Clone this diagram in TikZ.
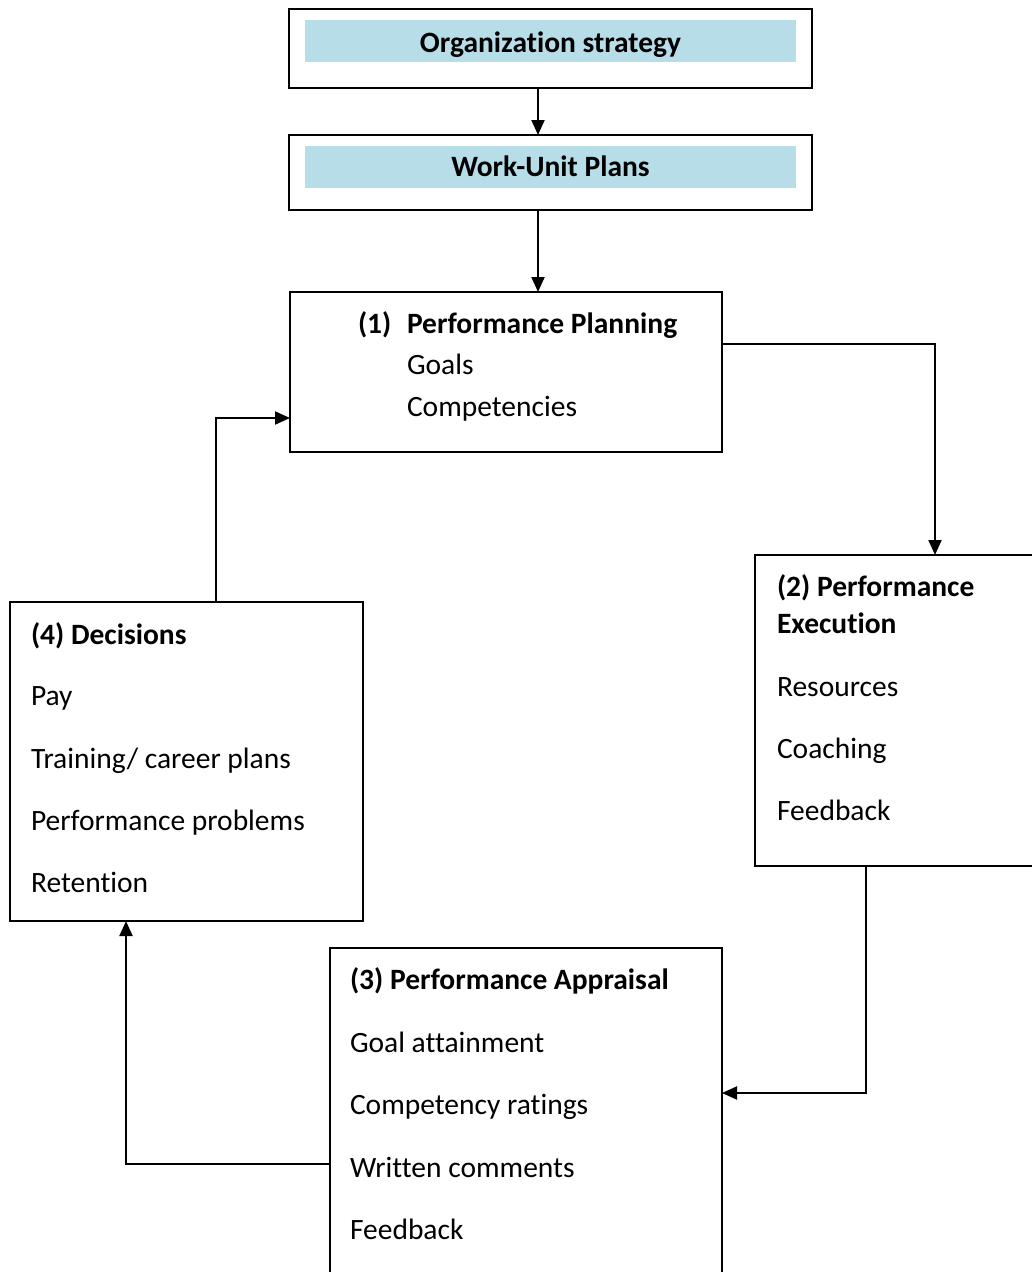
\documentclass[tikz,border=0pt]{standalone}
\usepackage{fontspec}
\setmainfont[Ligatures=NoCommon]{Carlito}
\usetikzlibrary{arrows.meta,calc}
\definecolor{hdrfill}{HTML}{B6DDE8}
\newcommand{\bodyfont}{\fontsize{29.5}{34}\selectfont}
\begin{document}
\begin{tikzpicture}[x=1pt,y=-1pt,
  box/.style={draw=black, line width=2pt, inner sep=0pt, outer sep=0pt, anchor=north west, fill=white},
  band/.style={fill=hdrfill, draw=none, inner sep=0pt, outer sep=0pt, anchor=north west},
  txt/.style={inner sep=0pt, outer sep=0pt, anchor=base west, font=\bodyfont},
  btxt/.style={txt, font=\bodyfont\bfseries},
  ctr/.style={inner sep=0pt, outer sep=0pt, anchor=base, font=\bodyfont\bfseries},
  conn/.style={draw=black, line width=2pt},
  arr/.style={conn, -{Triangle[length=15pt,width=13pt]}}
]
\useasboundingbox (0,0) rectangle (1032,1272);
\clip (0,0) rectangle (1032,1272);
\fill[white] (0,0) rectangle (1032,1272);

% top boxes
\node[box, minimum width=523pt, minimum height=79pt] (os) at (289,9) {};
\node[band, minimum width=491pt, minimum height=42pt] (osb) at (305,20) {};
\node[ctr] (ost) at (550.5,52) {Organization strategy};

\node[box, minimum width=523pt, minimum height=75pt] (wu) at (289,135) {};
\node[band, minimum width=491pt, minimum height=42pt] (wub) at (305,146) {};
\node[ctr] (wut) at (550.5,176) {Work-Unit Plans};

% (1) planning
\node[box, minimum width=432pt, minimum height=160pt] (pp) at (290,292) {};
\node[btxt] (pp0) at (358,333) {(1)};
\node[btxt] (pp1) at (407,333) {Performance Planning};
\node[txt] (pp2) at (407,374) {Goals};
\node[txt] (pp3) at (407,416) {Competencies};

% (2) execution
\node[box, minimum width=295pt, minimum height=311pt] (ex) at (755,555) {};
\node[btxt] (ex1) at (777,596) {(2) Performance};
\node[btxt] (ex2) at (777,633) {Execution};
\node[txt] (ex3) at (777,696) {Resources};
\node[txt] (ex4) at (777,758) {Coaching};
\node[txt] (ex5) at (777,820) {Feedback};

% (3) appraisal
\node[box, minimum width=392pt, minimum height=360pt] (ap) at (330,948) {};
\node[btxt] (ap1) at (350,989) {(3) Performance Appraisal};
\node[txt] (ap2) at (350,1052) {Goal attainment};
\node[txt] (ap3) at (350,1114) {Competency ratings};
\node[txt] (ap4) at (350,1177) {Written comments};
\node[txt] (ap5) at (350,1239) {Feedback};

% (4) decisions
\node[box, minimum width=353pt, minimum height=319pt] (de) at (10,602) {};
\node[btxt] (de1) at (31,644) {(4) Decisions};
\node[txt] (de2) at (31,705) {Pay};
\node[txt] (de3) at (31,768) {Training/ career plans};
\node[txt] (de4) at (31,830) {Performance problems};
\node[txt] (de5) at (31,892) {Retention};

% routing coordinates
\coordinate (xa) at (538,0);
\coordinate (ya) at (0,344);
\coordinate (xb) at (935,0);
\coordinate (xc) at (866,0);
\coordinate (yc) at (0,1093);
\coordinate (yd) at (0,1164);
\coordinate (xd) at (126,0);
\coordinate (xe) at (216,0);
\coordinate (ye) at (0,418);

\draw[arr] (os.south -| xa) -- (wu.north -| xa);
\draw[arr] (wu.south -| xa) -- (pp.north -| xa);
\draw[arr] (pp.east |- ya) -| (ex.north -| xb);
\draw[arr] (ex.south -| xc) |- (ap.east |- yc);
\draw[arr] (ap.west |- yd) -| (de.south -| xd);
\draw[arr] (de.north -| xe) |- (pp.west |- ye);
\end{tikzpicture}
\end{document}
